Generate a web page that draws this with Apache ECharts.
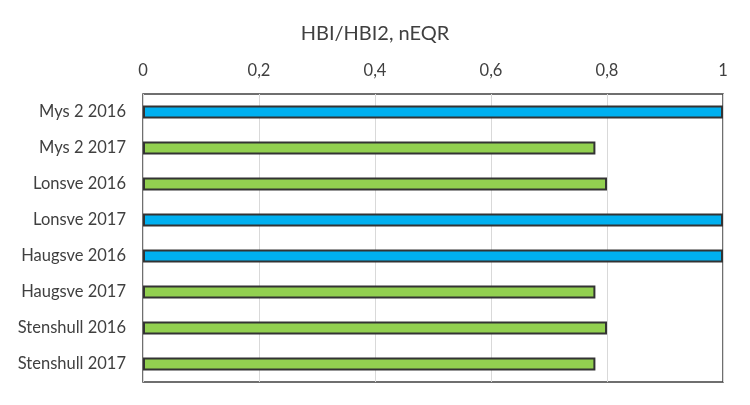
<!DOCTYPE html>
<html><head><meta charset="utf-8">
<script src="https://cdn.jsdelivr.net/npm/echarts@6/dist/echarts.min.js"></script>
<style>html,body{margin:0;padding:0;background:#fff}#c{width:750px;height:405px}</style>
</head><body><div id="c"></div>
<script>
const categories = ['Mys 2 2016','Mys 2 2017','Lonsve 2016','Lonsve 2017','Haugsve 2016','Haugsve 2017','Stenshull 2016','Stenshull 2017'];
const values = [1, 0.78, 0.80, 1, 1, 0.78, 0.80, 0.78];
const colorGroup = ['blue','green','green','blue','blue','green','green','green'];
const palette = {blue:'#00B0F0', green:'#92D050'};
const titleText = 'HBI/HBI2, nEQR';

const chart = echarts.init(document.getElementById('c'), null, {renderer:'canvas'});
const font = 'Lato, "Open Sans", sans-serif';
chart.setOption({
  animation:false,
  backgroundColor:'#fff',
  title:{text:titleText,left:'center',top:19,textStyle:{fontFamily:font,fontSize:20,fontWeight:'normal',color:'#404040'}},
  grid:{left:143,right:27,top:94,bottom:23,show:true,borderColor:'#404040',borderWidth:1.5,backgroundColor:'transparent'},
  xAxis:{type:'value',position:'top',min:0,max:1,interval:0.2,
    axisLine:{show:false},axisTick:{show:false},
    splitLine:{lineStyle:{color:'#d9d9d9',width:1}},
    axisLabel:{margin:15,fontFamily:font,fontSize:16.5,color:'#404040',formatter:v=>String(+v.toFixed(1)).replace('.',',')}},
  yAxis:{type:'category',data:categories,inverse:true,
    axisLine:{show:false},axisTick:{show:false},
    axisLabel:{margin:17,fontFamily:font,fontSize:16.5,color:'#404040'}},
  series:[{type:'bar',barWidth:13,
    data:values.map((v,i)=>({value:v,itemStyle:{color:palette[colorGroup[i]]}})),
    itemStyle:{borderColor:'#333',borderWidth:2}}]
});
</script></body></html>
